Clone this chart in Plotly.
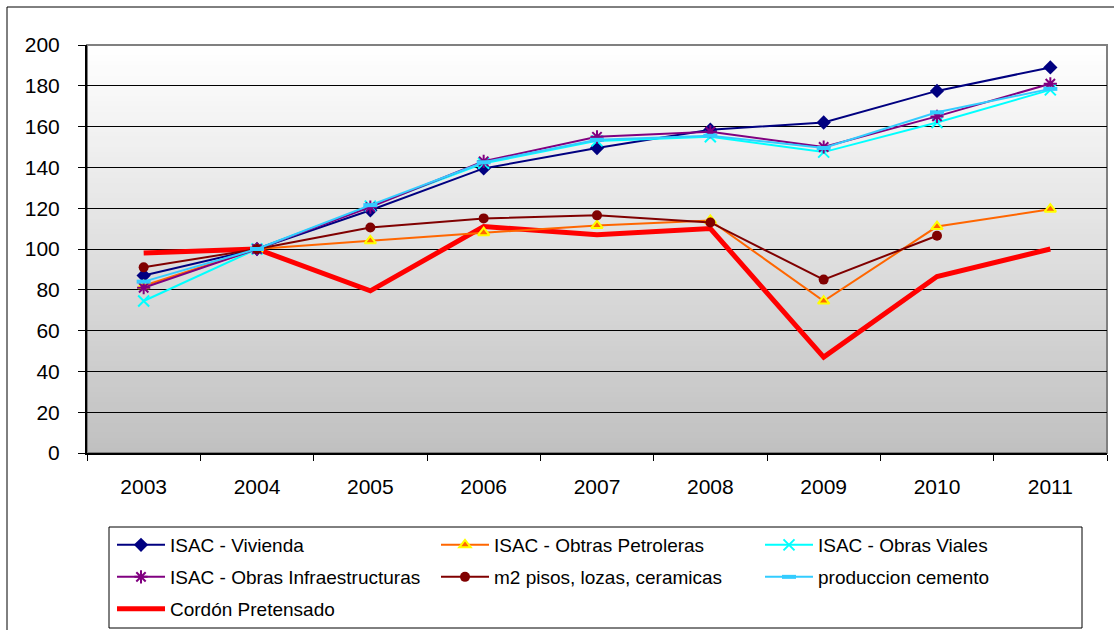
import plotly.graph_objects as go

years = ["2003", "2004", "2005", "2006", "2007", "2008", "2009", "2010", "2011"]

vivienda = [87, 100, 119, 139.5, 149.5, 158.5, 162, 177.5, 189]
petroleras = [82, 100, 104, 108, 111.5, 114, 74.5, 111, 119.5]
viales = [74.5, 100, 121, 142, 153, 155, 147.5, 162, 178]
infra = [81, 100, 120.5, 143, 155, 157.5, 150, 165, 181]
pisos = [91, 100, 110.5, 115, 116.5, 113, 85, 106.5, None]
cemento = [84, 100, 121.5, 142.5, 153.5, 155.5, 149.5, 167, 178.5]
cordon = [98, 100, 79.5, 111, 107, 110, 47, 86.5, 100]

y_ticks = [0, 20, 40, 60, 80, 100, 120, 140, 160, 180, 200]

FONT = "Liberation Sans, Arial, sans-serif"
W, H = 1114, 630

fig = go.Figure()

fig.add_trace(go.Scatter(x=years, y=cordon, name="Cordón Pretensado", mode="lines",
                         line=dict(color="#FF0000", width=5), legend="legend3"))
fig.add_trace(go.Scatter(x=years, y=vivienda, name="ISAC - Vivienda", mode="lines+markers",
                         line=dict(color="#000080", width=2),
                         marker=dict(symbol="diamond", size=11, color="#000080"), legend="legend"))
fig.add_trace(go.Scatter(x=years, y=petroleras, name="ISAC - Obtras Petroleras", mode="lines+markers",
                         line=dict(color="#FF6600", width=2),
                         marker=dict(symbol="triangle-up", size=10, color="#FF6600",
                                     line=dict(color="#FFFF00", width=2)), legend="legend"))
fig.add_trace(go.Scatter(x=years, y=viales, name="ISAC - Obras Viales", mode="lines+markers",
                         line=dict(color="#00FFFF", width=2),
                         marker=dict(symbol="x-thin", size=11, color="#00FFFF",
                                     line=dict(color="#00FFFF", width=2)), legend="legend"))
fig.add_trace(go.Scatter(x=years, y=infra, name="ISAC - Obras Infraestructuras", mode="lines+markers",
                         line=dict(color="#800080", width=2),
                         marker=dict(symbol="asterisk", size=11, color="#800080",
                                     line=dict(color="#800080", width=2)), legend="legend2"))
fig.add_trace(go.Scatter(x=years, y=pisos, name="m2 pisos, lozas, ceramicas", mode="lines+markers",
                         line=dict(color="#800000", width=2),
                         marker=dict(symbol="circle", size=10, color="#800000"), legend="legend2"))
fig.add_trace(go.Scatter(x=years, y=cemento, name="produccion cemento", mode="lines+markers",
                         line=dict(color="#33CCFF", width=2),
                         marker=dict(symbol="line-ew", size=10, color="#33CCFF",
                                     line=dict(color="#33CCFF", width=4)), legend="legend2"))

PW, PH, PL, PB = 1020, 408, 87, 453


def px_x(v):
    return (v - PL) / PW


def px_y(v):
    return (PB - v) / PH


# gradient plot background (white at top -> light gray at bottom)
shapes = []
n = 80
for i in range(n):
    t = (i + 0.5) / n
    g = int(round(255 - (255 - 192) * (1 - t)))
    shapes.append(dict(type="rect", xref="paper", yref="paper",
                       x0=0, x1=1, y0=i / n, y1=(i + 1) / n + 0.002,
                       fillcolor=f"rgb({g},{g},{g})", line=dict(width=0), layer="below"))
# gray plot border (top/right)
shapes.append(dict(type="rect", xref="paper", yref="paper", x0=0, x1=1, y0=0, y1=1,
                   line=dict(color="#808080", width=2), layer="below"))
# outer chart frame
shapes.append(dict(type="rect", xref="paper", yref="paper",
                   x0=px_x(7), x1=px_x(1140), y0=px_y(660), y1=px_y(7),
                   line=dict(color="#000000", width=1), fillcolor="rgba(0,0,0,0)", layer="below"))
# legend box
shapes.append(dict(type="rect", xref="paper", yref="paper",
                   x0=px_x(109), x1=px_x(1082), y0=px_y(628), y1=px_y(527),
                   line=dict(color="#000000", width=1), fillcolor="white", layer="above"))


def leg(yc):
    return dict(orientation="h", xref="container", yref="container",
                x=112 / W, y=1 - yc / H, xanchor="left", yanchor="middle",
                bgcolor="rgba(0,0,0,0)", borderwidth=0,
                font=dict(family=FONT, size=19, color="black"),
                itemwidth=48, entrywidth=261, entrywidthmode="pixels",
                traceorder="normal")


fig.update_layout(
    width=W, height=H,
    margin=dict(l=87, r=7, t=45, b=177, autoexpand=False),
    paper_bgcolor="white", plot_bgcolor="white",
    font=dict(family=FONT, color="black"),
    shapes=shapes,
    showlegend=True,
    legend=leg(545),
    legend2=leg(577),
    legend3=leg(609),
    xaxis=dict(type="category", range=[-0.5, 8.5], showgrid=False,
               showline=True, linecolor="#000000", linewidth=2,
               ticks="outside", tickson="boundaries", ticklen=6, tickcolor="#000000",
               tickfont=dict(family=FONT, size=21, color="black"),
               ticklabelstandoff=14),
    yaxis=dict(range=[0, 200], tickvals=y_ticks, showgrid=True, gridcolor="#000000", gridwidth=1,
               showline=True, linecolor="#000000", linewidth=2,
               ticks="outside", ticklen=7, tickcolor="#000000",
               tickfont=dict(family=FONT, size=21, color="black"),
               ticklabelstandoff=14, zeroline=False),
)

fig.write_html("out.html")
